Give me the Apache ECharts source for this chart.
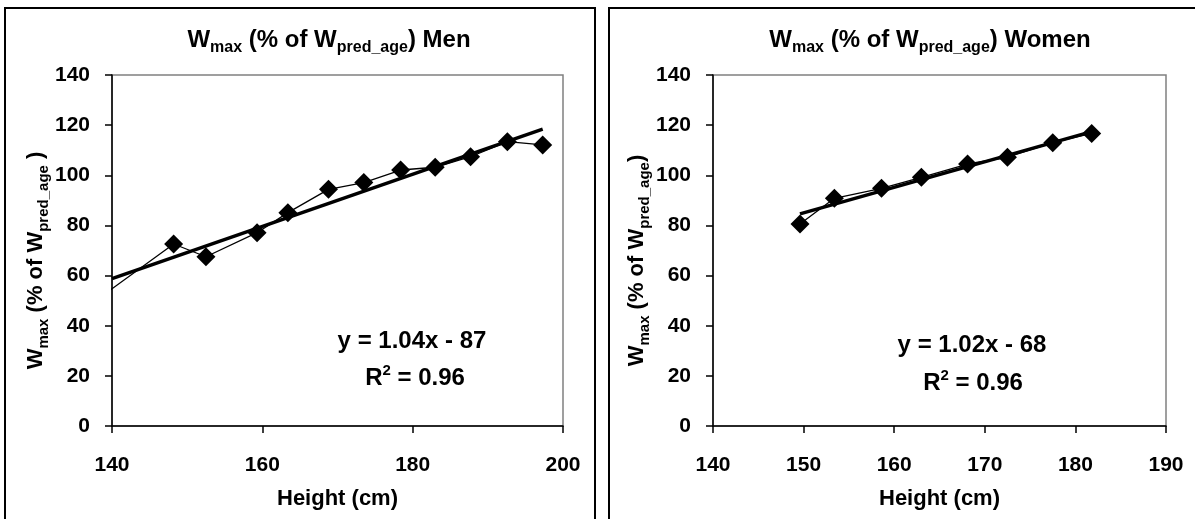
<!DOCTYPE html>
<html>
<head>
<meta charset="utf-8">
<script src="https://cdn.jsdelivr.net/npm/echarts@6/dist/echarts.min.js"></script>
<style>
  html, body { margin: 0; padding: 0; background: #fff; }
  #chart { width: 1195px; height: 519px; }
</style>
</head>
<body>
<div id="chart"></div>
<script>
// Men: height (cm) vs Wmax (% of Wpred_age)
var menHeight = [138.7, 148.2, 152.5, 159.3, 163.4, 168.8, 173.5, 178.4, 183.0, 187.7, 192.6, 197.3];
var menWmax = [51.9, 72.6, 67.5, 77.1, 85.1, 94.4, 97.1, 102.1, 103.2, 107.4, 113.4, 112.1];
var menTrendHeight = [140, 197.3];
var menTrendWmax = [58.8, 118.4];

// Women
var womenHeight = [149.6, 153.4, 158.6, 163.0, 168.1, 172.5, 177.5, 181.8];
var womenWmax = [80.6, 90.8, 94.8, 99.2, 104.5, 107.2, 113.0, 116.7];
var womenTrendHeight = [149.6, 181.8];
var womenTrendWmax = [84.6, 117.4];

// axis ticks
var menXTicks = [140, 160, 180, 200];
var womenXTicks = [140, 150, 160, 170, 180, 190];
var yTicks = [0, 20, 40, 60, 80, 100, 120, 140];

var F = "'Liberation Sans', Arial, sans-serif";

function pairs(xs, ys) {
  return xs.map(function (x, i) { return [x, ys[i]]; });
}

// rich styles for sub/superscripts
function subRich(size, subSize, pad) {
  return {
    m: { fontSize: size, fontWeight: 'bold', fontFamily: F, color: '#000', lineHeight: size, verticalAlign: 'top' },
    s: { fontSize: subSize, fontWeight: 'bold', fontFamily: F, color: '#000', lineHeight: subSize, verticalAlign: 'top', padding: [pad, 0, 0, 0] }
  };
}
function supRich(size, supSize, pad) {
  return {
    m: { fontSize: size, fontWeight: 'bold', fontFamily: F, color: '#000', lineHeight: size, verticalAlign: 'top', padding: [pad, 0, 0, 0] },
    s: { fontSize: supSize, fontWeight: 'bold', fontFamily: F, color: '#000', lineHeight: supSize, verticalAlign: 'top' }
  };
}

function xAxisOf(idx, ticks) {
  return {
    type: 'value', gridIndex: idx,
    min: ticks[0], max: ticks[ticks.length - 1], interval: ticks[1] - ticks[0],
    name: 'Height (cm)', nameLocation: 'middle', nameGap: 62,
    nameTextStyle: { fontSize: 22, fontWeight: 'bold', fontFamily: F, color: '#000' },
    axisLine: { show: true, onZero: false, lineStyle: { color: '#000', width: 1.5 } },
    axisTick: { show: true, inside: false, length: 7, lineStyle: { color: '#000', width: 1.5 } },
    axisLabel: { fontSize: 21, fontWeight: 'bold', fontFamily: F, color: '#000', margin: 29 },
    splitLine: { show: false }
  };
}
function yAxisOf(idx, name) {
  var rich = subRich(22, 15, 11);
  return {
    type: 'value', gridIndex: idx,
    min: yTicks[0], max: yTicks[yTicks.length - 1], interval: yTicks[1] - yTicks[0],
    name: name, nameLocation: 'middle', nameGap: 60,
    nameTextStyle: { rich: rich, padding: [0, 20, 0, 0] },
    axisLine: { show: true, onZero: false, lineStyle: { color: '#000', width: 1.5 } },
    axisTick: { show: true, inside: false, length: 7, lineStyle: { color: '#000', width: 1.5 } },
    axisLabel: { fontSize: 21, fontWeight: 'bold', fontFamily: F, color: '#000', margin: 22 },
    splitLine: { show: false }
  };
}
function dataSeries(idx, xs, ys, minX) {
  return {
    type: 'line', xAxisIndex: idx, yAxisIndex: idx, clip: false,
    data: pairs(xs, ys).map(function (p) {
      return p[0] < minX ? { value: p, symbol: 'none' } : p;
    }),
    symbol: 'diamond', symbolSize: 19,
    itemStyle: { color: '#000' },
    lineStyle: { color: '#000', width: 1.3 },
    animation: false, z: 3
  };
}
function trendSeries(idx, xs, ys) {
  return {
    type: 'line', xAxisIndex: idx, yAxisIndex: idx,
    data: pairs(xs, ys), symbol: 'none',
    lineStyle: { color: '#000', width: 3.5 },
    animation: false, z: 2
  };
}
function text(x, y, str, rich) {
  return { type: 'text', x: x, y: y, silent: true, z: 10,
    style: { text: str, rich: rich, align: 'center', verticalAlign: 'middle' } };
}

var chart = echarts.init(document.getElementById('chart'));
chart.setOption({
  backgroundColor: '#fff',
  animation: false,
  grid: [
    { left: 112, top: 75, width: 451, height: 351, show: true, borderColor: '#808080', borderWidth: 1.5 },
    { left: 713, top: 75, width: 453, height: 351, show: true, borderColor: '#808080', borderWidth: 1.5 }
  ],
  xAxis: [xAxisOf(0, menXTicks), xAxisOf(1, womenXTicks)],
  yAxis: [
    yAxisOf(0, '{m|W}{s|max}{m| (% of W}{s|pred_age}{m| )}'),
    yAxisOf(1, '{m|W}{s|max}{m| (% of W}{s|pred_age}{m|)}')
  ],
  series: [
    trendSeries(0, menTrendHeight, menTrendWmax),
    dataSeries(0, menHeight, menWmax, menXTicks[0]),
    trendSeries(1, womenTrendHeight, womenTrendWmax),
    dataSeries(1, womenHeight, womenWmax, womenXTicks[0])
  ],
  graphic: [
    { type: 'rect', silent: true, shape: { x: 5, y: 8, width: 590, height: 540 },
      style: { fill: 'none', stroke: '#000', lineWidth: 2 } },
    { type: 'rect', silent: true, shape: { x: 609, y: 8, width: 600, height: 540 },
      style: { fill: 'none', stroke: '#000', lineWidth: 2 } },
    text(329, 40, '{m|W}{s|max}{m| (% of W}{s|pred_age}{m|) Men}', subRich(24, 16, 12)),
    text(930, 40, '{m|W}{s|max}{m| (% of W}{s|pred_age}{m|) Women}', subRich(24, 16, 12)),
    text(412, 338, '{m|y = 1.04x - 87}', supRich(24, 15, 3)),
    text(415, 375, '{m|R}{s|2}{m| = 0.96}', supRich(24, 15, 3)),
    text(972, 342, '{m|y = 1.02x - 68}', supRich(24, 15, 3)),
    text(973, 380, '{m|R}{s|2}{m| = 0.96}', supRich(24, 15, 3))
  ]
});
</script>
</body>
</html>
